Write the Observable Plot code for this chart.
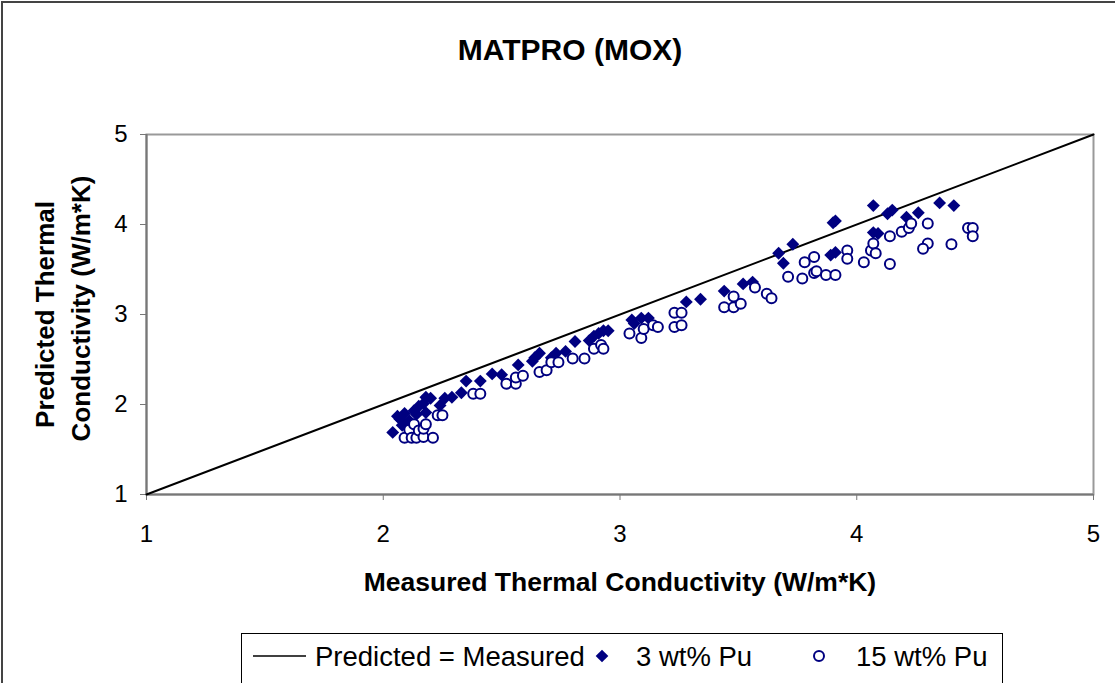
<!DOCTYPE html>
<html>
<head>
<meta charset="utf-8">
<script src="https://cdn.jsdelivr.net/npm/d3@7"></script>
<script src="https://cdn.jsdelivr.net/npm/@observablehq/plot@0.6"></script>
<style>
  html, body { margin: 0; padding: 0; background: #fff; overflow: hidden; }
  #wrap { position: relative; width: 1115px; height: 683px; overflow: hidden; font-family: "Liberation Sans", Arial, sans-serif; }
  #border { position: absolute; left: 1px; top: 1px; width: 1130px; height: 700px; border: 2px solid #444; box-sizing: border-box; pointer-events: none; }
  #legend { position: absolute; left: 241px; top: 633px; width: 762px; height: 80px; border: 1.5px solid #000; box-sizing: border-box; background: #fff; }
  #legend svg { position: absolute; left: 0; top: 0; }
</style>
</head>
<body>
<div id="wrap"><div id="chart"></div><div id="legend"></div><div id="border"></div></div>
<script>
// Data
const title = "MATPRO (MOX)";
const xLabel = "Measured Thermal Conductivity (W/m*K)";
const yLabel1 = "Predicted Thermal";
const yLabel2 = "Conductivity (W/m*K)";
const axisTicks = [1, 2, 3, 4, 5];
const diagX = [1, 5];
const diagY = [1, 5];

// 3 wt% Pu (filled diamonds): measured, predicted
const pu3Measured = [2.04,2.06,2.07,2.08,2.09,2.11,2.13,2.14,2.15,2.17,2.18,2.18,2.20,2.24,2.26,2.29,2.33,2.35,2.41,2.46,2.50,2.57,2.63,2.64,2.66,2.71,2.73,2.77,2.81,2.87,2.89,2.91,2.93,2.95,3.05,3.06,3.09,3.12,3.28,3.34,3.44,3.52,3.56,3.67,3.69,3.73,3.89,3.90,3.91,3.91,4.07,4.07,4.09,4.13,4.15,4.21,4.26,4.35,4.41];
const pu3Predicted = [1.69,1.87,1.84,1.77,1.90,1.82,1.93,1.89,1.98,2.01,2.08,1.91,2.07,1.99,2.07,2.08,2.13,2.26,2.26,2.34,2.33,2.44,2.48,2.52,2.57,2.52,2.57,2.59,2.70,2.71,2.76,2.79,2.82,2.82,2.94,2.90,2.96,2.96,3.14,3.17,3.26,3.34,3.36,3.68,3.57,3.78,3.66,4.02,4.04,3.69,4.21,3.91,3.90,4.12,4.16,4.08,4.13,4.24,4.21];

// 15 wt% Pu (open circles): measured, predicted
const pu15Measured = [2.09,2.11,2.12,2.13,2.14,2.15,2.17,2.17,2.18,2.21,2.23,2.25,2.38,2.41,2.52,2.56,2.56,2.59,2.66,2.69,2.71,2.74,2.80,2.85,2.89,2.92,2.93,3.04,3.09,3.10,3.14,3.16,3.23,3.26,3.23,3.26,3.44,3.48,3.51,3.48,3.57,3.62,3.64,3.71,3.77,3.78,3.82,3.83,3.87,3.91,3.82,3.96,3.96,4.03,4.06,4.07,4.08,4.14,4.14,4.19,4.22,4.23,4.30,4.30,4.28,4.40,4.47,4.49,4.49];
const pu15Predicted = [1.63,1.72,1.63,1.78,1.63,1.71,1.64,1.73,1.78,1.63,1.88,1.88,2.12,2.12,2.23,2.23,2.30,2.32,2.36,2.38,2.47,2.47,2.51,2.51,2.62,2.66,2.62,2.79,2.74,2.84,2.88,2.86,3.02,3.02,2.86,2.88,3.08,3.08,3.12,3.20,3.30,3.23,3.18,3.42,3.40,3.58,3.46,3.48,3.44,3.44,3.64,3.71,3.62,3.58,3.71,3.79,3.68,3.87,3.56,3.92,3.96,4.01,4.01,3.79,3.73,3.78,3.96,3.96,3.87];

const legendLabels = ["Predicted = Measured", "3 wt% Pu", "15 wt% Pu"];

const navy = "#000080";
const font = "Liberation Sans, Arial, sans-serif";

const diag = diagX.map((x, i) => ({x, y: diagY[i]}));
const pu3 = pu3Measured.map((x, i) => ({x, y: pu3Predicted[i]}));
const pu15 = pu15Measured.map((x, i) => ({x, y: pu15Predicted[i]}));

const chart = Plot.plot({
  width: 1115,
  height: 683,
  marginLeft: 146,
  marginRight: 22,
  marginTop: 134,
  marginBottom: 189,
  style: {fontFamily: font, background: "transparent"},
  x: {domain: [1, 5]},
  y: {domain: [1, 5]},
  marks: [
    Plot.frame({stroke: "#999", strokeWidth: 2}),
    Plot.ruleX([1], {stroke: "#777", strokeWidth: 2}),
    Plot.ruleY([1], {stroke: "#777", strokeWidth: 2}),
    Plot.axisX({ticks: axisTicks, tickSize: 6, tickPadding: 24, fontSize: 24, tickFormat: d => String(d), label: null, stroke: "#777", fill: "#000"}),
    Plot.axisY({ticks: axisTicks, tickSize: 6, tickPadding: 13, fontSize: 24, tickFormat: d => String(d), label: null, stroke: "#777", fill: "#000"}),
    Plot.line(diag, {x: "x", y: "y", stroke: "#000", strokeWidth: 2, clip: false}),
    Plot.dot(pu3, {x: "x", y: "y", symbol: "diamond2", r: 5.8, fill: navy, stroke: "none"}),
    Plot.dot(pu15, {x: "x", y: "y", symbol: "circle", r: 5, fill: "#fff", stroke: navy, strokeWidth: 2}),
    Plot.text([title], {frameAnchor: "top", dx: -50, dy: -84, lineAnchor: "middle", fontSize: 30, fontWeight: "bold", fill: "#000"}),
    Plot.text([xLabel], {frameAnchor: "bottom", dy: 88, lineAnchor: "middle", fontSize: 26.5, fontWeight: "bold", fill: "#000"}),
    Plot.text([yLabel1], {frameAnchor: "left", dx: -101, rotate: -90, textAnchor: "middle", lineAnchor: "middle", fontSize: 26, fontWeight: "bold", fill: "#000"}),
    Plot.text([yLabel2], {frameAnchor: "left", dx: -65, dy: -6, rotate: -90, textAnchor: "middle", lineAnchor: "middle", fontSize: 26, fontWeight: "bold", fill: "#000"})
  ]
});
document.getElementById("chart").appendChild(chart);

// Legend
const lg = d3.select("#legend").append("svg").attr("width", 762).attr("height", 80);
const ly = 22;
lg.append("line").attr("x1", 11).attr("x2", 64).attr("y1", ly).attr("y2", ly).attr("stroke", "#000").attr("stroke-width", 1.5);
lg.append("text").attr("x", 73).attr("y", ly).attr("dy", "0.36em").attr("font-size", 27.5).attr("font-family", font).text(legendLabels[0]);
lg.append("path").attr("d", d3.symbol(d3.symbolSquare, 80)()).attr("transform", `translate(360,${ly}) rotate(45)`).attr("fill", navy);
lg.append("text").attr("x", 394).attr("y", ly).attr("dy", "0.36em").attr("font-size", 27.5).attr("font-family", font).text(legendLabels[1]);
lg.append("circle").attr("cx", 577).attr("cy", ly).attr("r", 5).attr("fill", "#fff").attr("stroke", navy).attr("stroke-width", 2);
lg.append("text").attr("x", 614).attr("y", ly).attr("dy", "0.36em").attr("font-size", 27.5).attr("font-family", font).text(legendLabels[2]);
</script>
</body>
</html>
